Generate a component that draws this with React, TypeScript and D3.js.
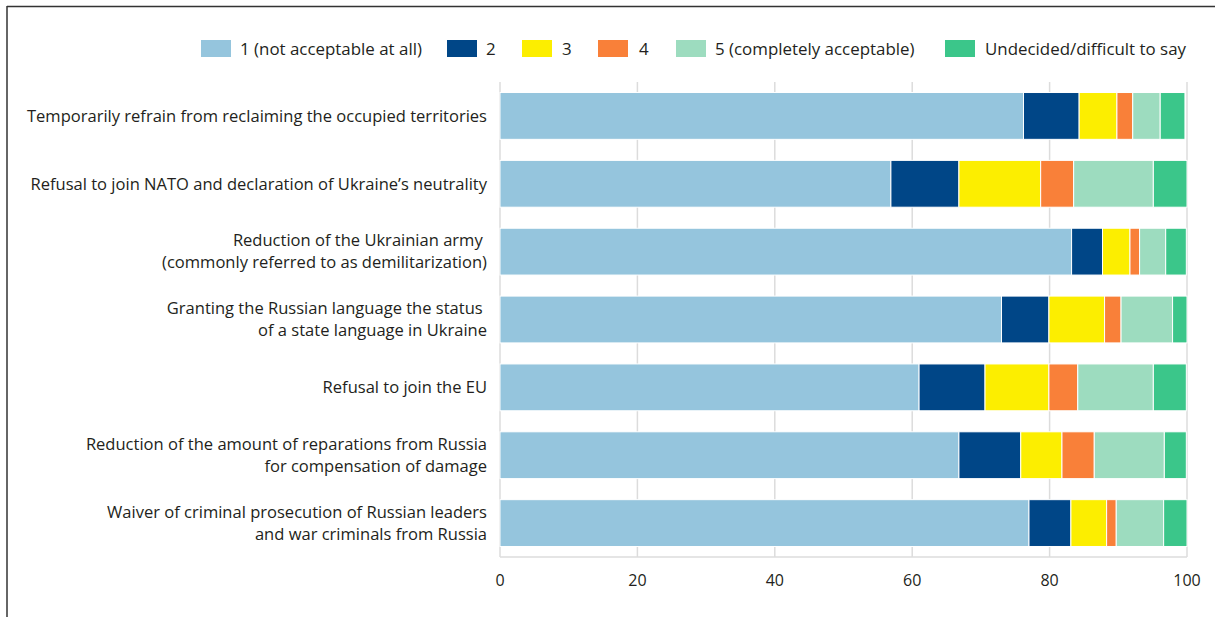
import React from "react";
import * as d3 from "d3";

const categories: string[][] = [
  ["Temporarily refrain from reclaiming the occupied territories"],
  ["Refusal to join NATO and declaration of Ukraine’s neutrality"],
  ["Reduction of the Ukrainian army ", "(commonly referred to as demilitarization)"],
  ["Granting the Russian language the status ", "of a state language in Ukraine"],
  ["Refusal to join the EU"],
  ["Reduction of the amount of reparations from Russia", "for compensation of damage"],
  ["Waiver of criminal prosecution of Russian leaders", "and war criminals from Russia"],
];

const seriesNames = [
  "1 (not acceptable at all)",
  "2",
  "3",
  "4",
  "5 (completely acceptable)",
  "Undecided/difficult to say",
];

const s1 = [76.2, 56.9, 83.2, 73.0, 61.0, 66.8, 77.0];
const s2 = [8.1, 9.9, 4.5, 6.9, 9.6, 9.0, 6.1];
const s3 = [5.5, 11.9, 4.0, 8.1, 9.3, 6.0, 5.2];
const s4 = [2.3, 4.8, 1.4, 2.4, 4.2, 4.7, 1.4];
const s5 = [4.0, 11.6, 3.8, 7.5, 11.0, 10.2, 6.9];
const s6 = [3.6, 4.9, 3.0, 2.1, 4.8, 3.2, 3.4];

const colors = ["#95c5dd", "#004687", "#fcee00", "#f98039", "#9ddcbf", "#3bc68a"];
const xTicks = [0, 20, 40, 60, 80, 100];

const W = 1215;
const H = 617;
const FONT = "'Open Sans', 'Noto Sans', sans-serif";

export default function App() {
  const seriesValues = [s1, s2, s3, s4, s5, s6];
  const rows = categories.map((c, i) => {
    const r: Record<string, number> = { idx: i };
    seriesNames.forEach((n, j) => (r[n] = seriesValues[j][i]));
    return r;
  });
  const stacked = d3.stack<Record<string, number>>().keys(seriesNames)(rows);

  const x = d3.scaleLinear().domain([0, 100]).range([500, 1187]);
  const y = d3
    .scaleBand<number>()
    .domain(categories.map((_, i) => i))
    .range([82, 557])
    .paddingInner(0.31)
    .paddingOuter(0.155);

  const legendItems = [
    { sx: 201, tx: 240 },
    { sx: 447, tx: 486 },
    { sx: 522, tx: 562 },
    { sx: 598, tx: 639 },
    { sx: 676, tx: 715 },
    { sx: 945, tx: 985 },
  ];

  return (
    <svg
      width={W}
      height={H}
      style={{ position: "absolute", left: 0, top: 0, background: "#fff" }}
      fontFamily={FONT}
    >
      {/* frame */}
      <line x1={7} y1={6.5} x2={W} y2={6.5} stroke="#333" strokeWidth={1.5} />
      <line x1={7} y1={6} x2={7} y2={H} stroke="#333" strokeWidth={1.5} />

      {/* legend */}
      {seriesNames.map((n, i) => (
        <g key={n}>
          <rect x={legendItems[i].sx} y={40} width={30} height={17} fill={colors[i]} />
          <text x={legendItems[i].tx} y={49} dy="0.35em" fontSize={16.9} fill="#231f20">
            {n}
          </text>
        </g>
      ))}

      {/* grid */}
      {xTicks.map((t) => (
        <line key={t} x1={x(t)} x2={x(t)} y1={82} y2={557} stroke="#dcdcdc" strokeWidth={1.5} />
      ))}
      <line x1={x(0)} x2={x(100)} y1={557} y2={557} stroke="#dcdcdc" strokeWidth={1.5} />

      {/* bars */}
      {stacked.map((layer, si) => (
        <g key={layer.key} fill={colors[si]}>
          {layer.map((d, ci) => (
            <rect
              key={ci}
              x={x(d[0])}
              y={y(ci)}
              width={x(d[1]) - x(d[0])}
              height={y.bandwidth()}
              stroke="#fff"
              strokeWidth={1}
            />
          ))}
        </g>
      ))}

      {/* category labels */}
      {categories.map((lines, ci) => {
        const cy = (y(ci) as number) + y.bandwidth() / 2;
        const start = cy - ((lines.length - 1) * 22) / 2;
        return (
          <text
            key={ci}
            x={487}
            textAnchor="end"
            fontSize={16.55}
            fill="#231f20"
            style={{ whiteSpace: "pre" }}
          >
            {lines.map((l, li) => (
              <tspan key={li} x={487} y={start + li * 22} dy="0.35em">
                {l}
              </tspan>
            ))}
          </text>
        );
      })}

      {/* x axis labels */}
      {xTicks.map((t) => (
        <text key={t} x={x(t)} y={580} dy="0.35em" textAnchor="middle" fontSize={16} fill="#231f20">
          {t}
        </text>
      ))}
    </svg>
  );
}
